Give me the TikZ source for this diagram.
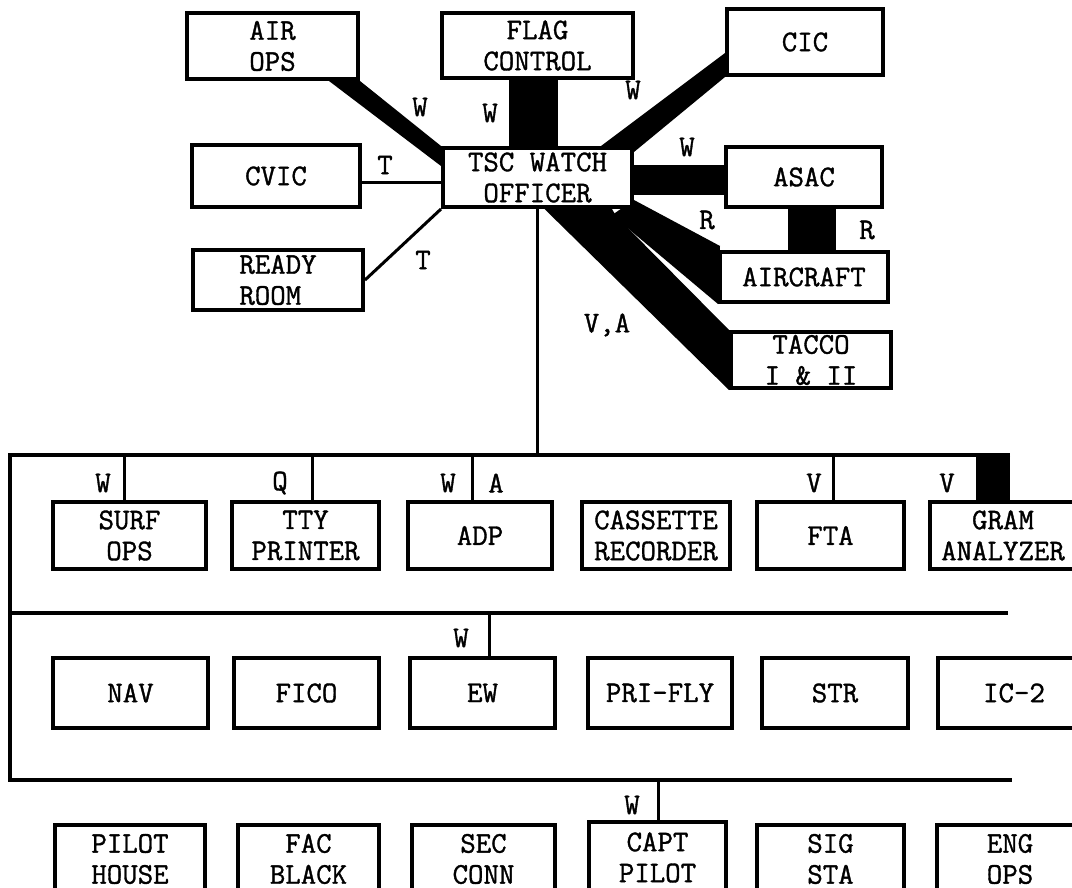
\documentclass[tikz,border=0pt]{standalone}
\usepackage{fontspec}
\setmonofont{Latin Modern Mono}[FakeBold=1.2]
\usetikzlibrary{calc,backgrounds}
\newcommand{\boxfont}{\fontsize{15}{15.5}\selectfont\ttfamily}

\begin{document}
\begin{tikzpicture}[x=0.5pt, y=-0.5pt,
    box/.style={draw, line width=2pt, fill=white, align=center,
      inner sep=0pt, font=\boxfont},
    bx/.style 2 args={minimum width=#1*0.5pt, minimum height=#2*0.5pt},
    lbl/.style={font=\boxfont, inner sep=0pt},
    wire/.style={line width=1.5pt},
    bus/.style={line width=2pt},
  ]
  \useasboundingbox (0,0) rectangle (1072,888);

  % Top group
  \node[box, bx={171}{66}] (airops)   at (272.5,46)  {AIR\\OPS};
  \node[box, bx={191}{65}] (flag)     at (537.5,45.5) {FLAG\\CONTROL};
  \node[box, bx={156}{66}] (cic)      at (805,42)    {CIC};
  \node[box, bx={168}{62}] (cvic)     at (276,176)   {CVIC};
  \node[box, bx={189}{59}] (tsc)      at (537.5,177.5) {TSC WATCH\\OFFICER};
  \node[box, bx={156}{60}] (asac)     at (804,177)   {ASAC};
  \node[box, bx={170}{60}, align=left] (ready) at (278,280) {READY\\ROOM};
  \node[box, bx={168}{50}] (aircraft) at (804,277)   {AIRCRAFT};
  \node[box, bx={160}{56}] (tacco)    at (811,360)   {TACCO\\I \& II};

  % Row 1
  \node[box, bx={153}{67}] (surf)     at (129.5,535.5) {SURF\\OPS};
  \node[box, bx={147}{67}] (tty)      at (305.5,535.5) {TTY\\PRINTER};
  \node[box, bx={144}{67}] (adp)      at (480,535.5)   {ADP};
  \node[box, bx={148}{67}] (cassette) at (656,535.5)   {CASSETTE\\RECORDER};
  \node[box, bx={147}{67}] (fta)      at (830.5,535.5) {FTA};
  \node[box, bx={146}{67}] (gram)     at (1003,535.5)  {GRAM\\ANALYZER};

  % Row 2
  \node[box, bx={155}{70}] (nav)      at (130.5,693) {NAV};
  \node[box, bx={145}{70}] (fico)     at (306.5,693) {FICO};
  \node[box, bx={145}{70}] (ew)       at (482.5,693) {EW};
  \node[box, bx={144}{70}] (prifly)   at (660,693)   {PRI-FLY};
  \node[box, bx={146}{70}] (str)      at (835,693)   {STR};
  \node[box, bx={152}{70}] (ictwo)    at (1014,693)  {IC-2};

  % Row 3
  \node[box, bx={150}{68}] (pilot)    at (130,859)    {PILOT\\HOUSE};
  \node[box, bx={141}{68}] (fac)      at (308.5,859)  {FAC\\BLACK};
  \node[box, bx={143}{68}] (sec)      at (483.5,859)  {SEC\\CONN};
  \node[box, bx={137}{71}] (capt)     at (657.5,857.5) {CAPT\\PILOT};
  \node[box, bx={147}{68}] (sig)      at (830.5,859)  {SIG\\STA};
  \node[box, bx={146}{68}] (eng)      at (1010,859)   {ENG\\OPS};

  % Buses
  \coordinate (b1l) at (10,455);  \coordinate (b1r) at (1010,455);
  \coordinate (b2l) at (10,613);  \coordinate (b2r) at (1008,613);
  \coordinate (b3l) at (10,780);  \coordinate (b3r) at (1012,780);

  % Wide links
  \begin{scope}[on background layer]
    \fill (airops.south east) -- (tsc.north west)
      -- ($(tsc.north west)+(0,20)$) -- ($(airops.south east)+(-31,0)$) -- cycle;
    \fill ($(flag.south)+(-29,0)$) rectangle ($(tsc.north)+(20,0)$);
    \fill ($(tsc.north east)+(-33,0)$) -- ($(cic.south west)+(0,-24)$)
      -- (cic.south west) -- ($(tsc.north east)+(0,6)$) -- cycle;
    \fill ($(tsc.east)+(0,-12)$) rectangle ($(asac.west)+(0,18)$);
    \fill ($(asac.south)+(-16,0)$) rectangle ($(aircraft.north)+(32,0)$);
    \fill ($(tsc.south east)+(0,-9)$) -- ($(aircraft.north west)+(2,-4)$)
      -- (aircraft.south west) -- ($(tsc.south east)+(-22,6)$) -- cycle;
    \fill ($(tsc.south)+(7,0)$) -- ($(tsc.south east)+(-22,0)$)
      -- ($(tsc.south east)+(-18,7)$) -- (tacco.north west)
      -- (tacco.south west) -- cycle;
    \fill ($(gram.north west)+(48,0)$) rectangle (b1r);
  \end{scope}

  % Thin links
  \coordinate (cv) at ($(cvic.east)+(0,7)$);
  \draw[wire] (cv) -- (cv -| tsc.west);
  \draw[wire] (ready.east) -- (tsc.south west);
  \draw[wire] (tsc.south) -- (tsc.south |- b1l);

  \draw[bus] (b1r) -- (b1l) -- (b3l) -- (b3r);
  \draw[bus] (b2l) -- (b2r);

  \foreach \n/\dx in {surf/-5, tty/7, adp/-8, fta/3} {
    \coordinate (d) at ($(\n.north)+(\dx,0)$);
    \draw[wire] (d) -- (d |- b1l);
  }
  \coordinate (dew) at ($(ew.north)+(6.5,0)$);
  \draw[wire] (dew) -- (dew |- b2l);
  \coordinate (dcapt) at ($(capt.north)+(0.5,0)$);
  \draw[wire] (dcapt) -- (dcapt |- b3l);

  % Labels
  \node[lbl] (lairops) at (420,107) {W};
  \node[lbl] (lflag)   at (490,113) {W};
  \node[lbl] (lcic)    at (633,90)  {W};
  \node[lbl] (lcvic)   at (385,165) {T};
  \node[lbl] (lready)  at (423,260) {T};
  \node[lbl] (lasac)   at (687,147) {W};
  \node[lbl] (lair)    at (707,220) {R};
  \node[lbl] (lasair)  at (867,230) {R};
  \node[lbl] (ltacco)  at (607,325) {V,A};
  \node[lbl] (lsurf)   at (103,483) {W};
  \node[lbl] (ltty)    at (280,483) {Q};
  \node[lbl] (ladpw)   at (448,483) {W};
  \node[lbl] (ladpa)   at (496,483) {A};
  \node[lbl] (lfta)    at (814,483) {V};
  \node[lbl] (lgram)   at (947,483) {V};
  \node[lbl] (lew)     at (461,638) {W};
  \node[lbl] (lcapt)   at (632,805) {W};
\end{tikzpicture}
\end{document}
